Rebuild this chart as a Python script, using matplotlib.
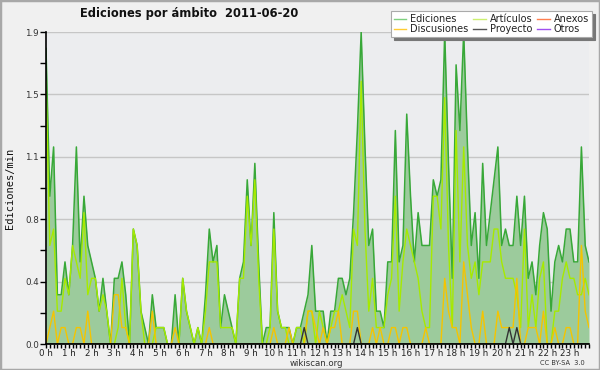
import numpy as np
import matplotlib
matplotlib.use("Agg")
import matplotlib.pyplot as plt
from matplotlib.lines import Line2D
from matplotlib.patches import Rectangle
from matplotlib.ticker import FixedLocator, MultipleLocator

plt.rcParams['font.family'] = ['DejaVu Sans']

# edits per minute, 10-minute samples from 00:00 to 23:50
ediciones = [1.8, 0.9, 1.2, 0.3, 0.3, 0.5, 0.3, 0.6, 1.2, 0.5, 0.9, 0.6,
             0.5, 0.4, 0.2, 0.4, 0.2, 0.0, 0.4, 0.4, 0.5, 0.3, 0.0, 0.7,
             0.6, 0.2, 0.1, 0.0, 0.3, 0.1, 0.1, 0.1, 0.0, 0.0, 0.3, 0.0,
             0.4, 0.2, 0.1, 0.0, 0.1, 0.0, 0.3, 0.7, 0.5, 0.6, 0.1, 0.3,
             0.2, 0.1, 0.0, 0.4, 0.5, 1.0, 0.6, 1.1, 0.5, 0.0, 0.1, 0.1,
             0.8, 0.2, 0.1, 0.1, 0.1, 0.0, 0.1, 0.1, 0.2, 0.3, 0.6, 0.2,
             0.2, 0.2, 0.0, 0.2, 0.2, 0.4, 0.4, 0.3, 0.4, 0.8, 1.3, 1.9,
             1.2, 0.6, 0.7, 0.2, 0.2, 0.1, 0.5, 0.5, 1.3, 0.5, 0.6, 1.4,
             0.9, 0.5, 0.8, 0.6, 0.6, 0.6, 1.0, 0.9, 1.0, 1.9, 1.1, 0.4,
             1.7, 1.3, 1.9, 1.2, 0.6, 0.8, 0.4, 1.1, 0.6, 0.8, 1.0, 1.2,
             0.6, 0.7, 0.6, 0.6, 0.9, 0.6, 0.9, 0.4, 0.5, 0.3, 0.6, 0.8,
             0.7, 0.2, 0.5, 0.6, 0.5, 0.7, 0.7, 0.5, 0.5, 1.2, 0.6, 0.5]
articulos = [1.6, 0.6, 0.7, 0.2, 0.2, 0.4, 0.3, 0.6, 0.5, 0.4, 0.8, 0.3,
             0.4, 0.4, 0.2, 0.3, 0.2, 0.0, 0.0, 0.1, 0.4, 0.1, 0.0, 0.7,
             0.6, 0.2, 0.0, 0.0, 0.0, 0.1, 0.1, 0.1, 0.0, 0.0, 0.0, 0.0,
             0.4, 0.2, 0.1, 0.0, 0.1, 0.0, 0.2, 0.5, 0.5, 0.5, 0.1, 0.1,
             0.1, 0.1, 0.0, 0.4, 0.4, 0.9, 0.6, 1.0, 0.4, 0.0, 0.0, 0.1,
             0.7, 0.2, 0.1, 0.1, 0.0, 0.0, 0.1, 0.1, 0.0, 0.2, 0.2, 0.0,
             0.2, 0.1, 0.0, 0.1, 0.2, 0.2, 0.3, 0.2, 0.1, 0.7, 0.6, 1.6,
             0.7, 0.2, 0.4, 0.1, 0.1, 0.1, 0.3, 0.4, 0.9, 0.2, 0.5, 0.7,
             0.6, 0.5, 0.4, 0.2, 0.1, 0.1, 0.9, 0.9, 0.7, 1.5, 0.6, 0.1,
             1.3, 0.5, 1.2, 0.6, 0.4, 0.5, 0.3, 0.5, 0.5, 0.5, 0.7, 0.7,
             0.5, 0.4, 0.4, 0.4, 0.3, 0.1, 0.7, 0.1, 0.3, 0.1, 0.4, 0.5,
             0.0, 0.0, 0.2, 0.2, 0.4, 0.5, 0.4, 0.4, 0.3, 0.3, 0.4, 0.3]
discusiones = [0.0, 0.1, 0.2, 0.0, 0.1, 0.1, 0.0, 0.0, 0.1, 0.1, 0.0, 0.2,
               0.0, 0.0, 0.0, 0.0, 0.0, 0.0, 0.3, 0.3, 0.1, 0.1, 0.0, 0.0,
               0.0, 0.0, 0.0, 0.0, 0.2, 0.0, 0.0, 0.0, 0.0, 0.0, 0.1, 0.0,
               0.0, 0.0, 0.0, 0.0, 0.0, 0.0, 0.0, 0.1, 0.0, 0.0, 0.0, 0.0,
               0.0, 0.0, 0.0, 0.0, 0.0, 0.0, 0.0, 0.0, 0.0, 0.0, 0.0, 0.0,
               0.1, 0.0, 0.0, 0.0, 0.1, 0.0, 0.0, 0.0, 0.0, 0.2, 0.2, 0.1,
               0.0, 0.1, 0.0, 0.1, 0.1, 0.2, 0.0, 0.0, 0.0, 0.2, 0.2, 0.0,
               0.0, 0.0, 0.1, 0.0, 0.1, 0.0, 0.0, 0.1, 0.1, 0.0, 0.1, 0.1,
               0.0, 0.0, 0.0, 0.0, 0.1, 0.0, 0.0, 0.0, 0.0, 0.4, 0.2, 0.1,
               0.1, 0.0, 0.5, 0.3, 0.1, 0.0, 0.0, 0.2, 0.0, 0.0, 0.0, 0.2,
               0.1, 0.1, 0.1, 0.1, 0.4, 0.0, 0.0, 0.1, 0.1, 0.1, 0.0, 0.2,
               0.0, 0.0, 0.1, 0.0, 0.0, 0.1, 0.1, 0.0, 0.0, 0.6, 0.2, 0.1]
proyecto = [0.0] * 144
for _i in (68, 82, 122, 124):
    proyecto[_i] = 0.1
anexos = [0.0] * 144
otros = [0.0] * 144

hour_labels = [f"{h} h" for h in range(24)]
series_names = ["Ediciones", "Discusiones", "Artículos", "Proyecto", "Anexos", "Otros"]

x = np.arange(len(ediciones)) / 6.0  # hours

fig = plt.figure(figsize=(6.0, 3.7), dpi=100)
fig.patch.set_facecolor('#f0f0f0')
fig.patches.append(Rectangle((0, 0), 1, 1, transform=fig.transFigure,
                             fill=False, edgecolor='#a8a8a8', linewidth=2.5))

ax = fig.add_axes([46/600, 1 - 344/370, (589-46)/600, (344-32)/370])
ax.set_facecolor('#ecedef')

c_ed, c_ed_fill = '#38a838', '#9ccb9c'
c_art = '#a6ea00'
c_dis = '#f5c400'
c_pro = '#333333'
c_anx = '#ff7f50'
c_otr = '#9b40f0'

ax.fill_between(x, ediciones, 0, color=c_ed_fill, linewidth=0, zorder=2)
ax.plot(x, otros, color=c_otr, lw=1.0, zorder=2.5)
ax.plot(x, anexos, color=c_anx, lw=1.0, zorder=2.5)
ax.plot(x, ediciones, color=c_ed, lw=1.1, zorder=3)
ax.plot(x, articulos, color=c_art, lw=1.0, zorder=4)
ax.plot(x, discusiones, color=c_dis, lw=1.0, zorder=5)
ax.plot(x, proyecto, color=c_pro, lw=1.0, zorder=6)

ax.set_xlim(0, x[-1])
ax.set_ylim(0, 1.9)

yt = [1.9 * k / 5 for k in range(6)]
ax.yaxis.set_major_locator(FixedLocator(yt))
ax.set_yticklabels([f"{v:.1f}" for v in yt])
ax.yaxis.set_minor_locator(FixedLocator([1.9 * (2 * k + 1) / 10 for k in range(5)]))
ax.grid(axis='y', which='major', color='#c6c6c6', linewidth=1.0, zorder=1)
ax.set_axisbelow(True)

ax.set_xticks(range(24))
ax.set_xticklabels(hour_labels)
ax.xaxis.set_minor_locator(MultipleLocator(1/6))

ax.tick_params(axis='x', which='both', direction='out', length=3, width=1,
               color='black', labelsize=6.3, pad=0.3, labelcolor='#222222')
ax.tick_params(axis='y', which='both', direction='out', length=4, width=1,
               color='black', labelsize=6.3, pad=1, labelcolor='#333333')

for s in ['top', 'right']:
    ax.spines[s].set_visible(False)
for s in ['left', 'bottom']:
    ax.spines[s].set_color('black')
    ax.spines[s].set_linewidth(1.2)
    ax.spines[s].set_zorder(7)

ax.set_ylabel("Ediciones/min", family='DejaVu Sans Mono', fontsize=7.5,
              color='#111111', labelpad=7)

fig.text(189/600, 1 - 13/370, "Ediciones por ámbito  2011-06-20",
         ha='center', va='center', fontsize=8.3, fontweight='bold', color='#111111')
fig.text(316/600, 1 - 363/370, "wikiscan.org", ha='center', va='center',
         fontsize=6.2, color='#333333')
fig.text(562/600, 1 - 363/370, "CC BY-SA  3.0", ha='center', va='center',
         fontsize=4.8, color='#333333')

legend_colors = {"Ediciones": '#7fd07f', "Discusiones": '#ffcc33', "Artículos": '#ccf070',
                 "Proyecto": '#555555', "Anexos": '#ff7f50', "Otros": '#a050f0'}
handles = [Line2D([], [], color=legend_colors[n], lw=1.0) for n in series_names]
leg = fig.legend(handles, series_names, ncol=3, loc='upper right',
                 bbox_to_anchor=(592/600, 1 - 11/370), fontsize=7,
                 frameon=True, fancybox=False, shadow={'color': '#777777', 'alpha': 1},
                 handlelength=1.3, handletextpad=0.4, columnspacing=0.5,
                 labelspacing=0.05, borderpad=0.3, borderaxespad=0)
leg.get_frame().set_edgecolor('#aaaaaa')
leg.get_frame().set_linewidth(0.8)
for t in leg.get_texts():
    t.set_color('#222222')

fig.savefig("out.png", dpi=100, facecolor=fig.get_facecolor())
